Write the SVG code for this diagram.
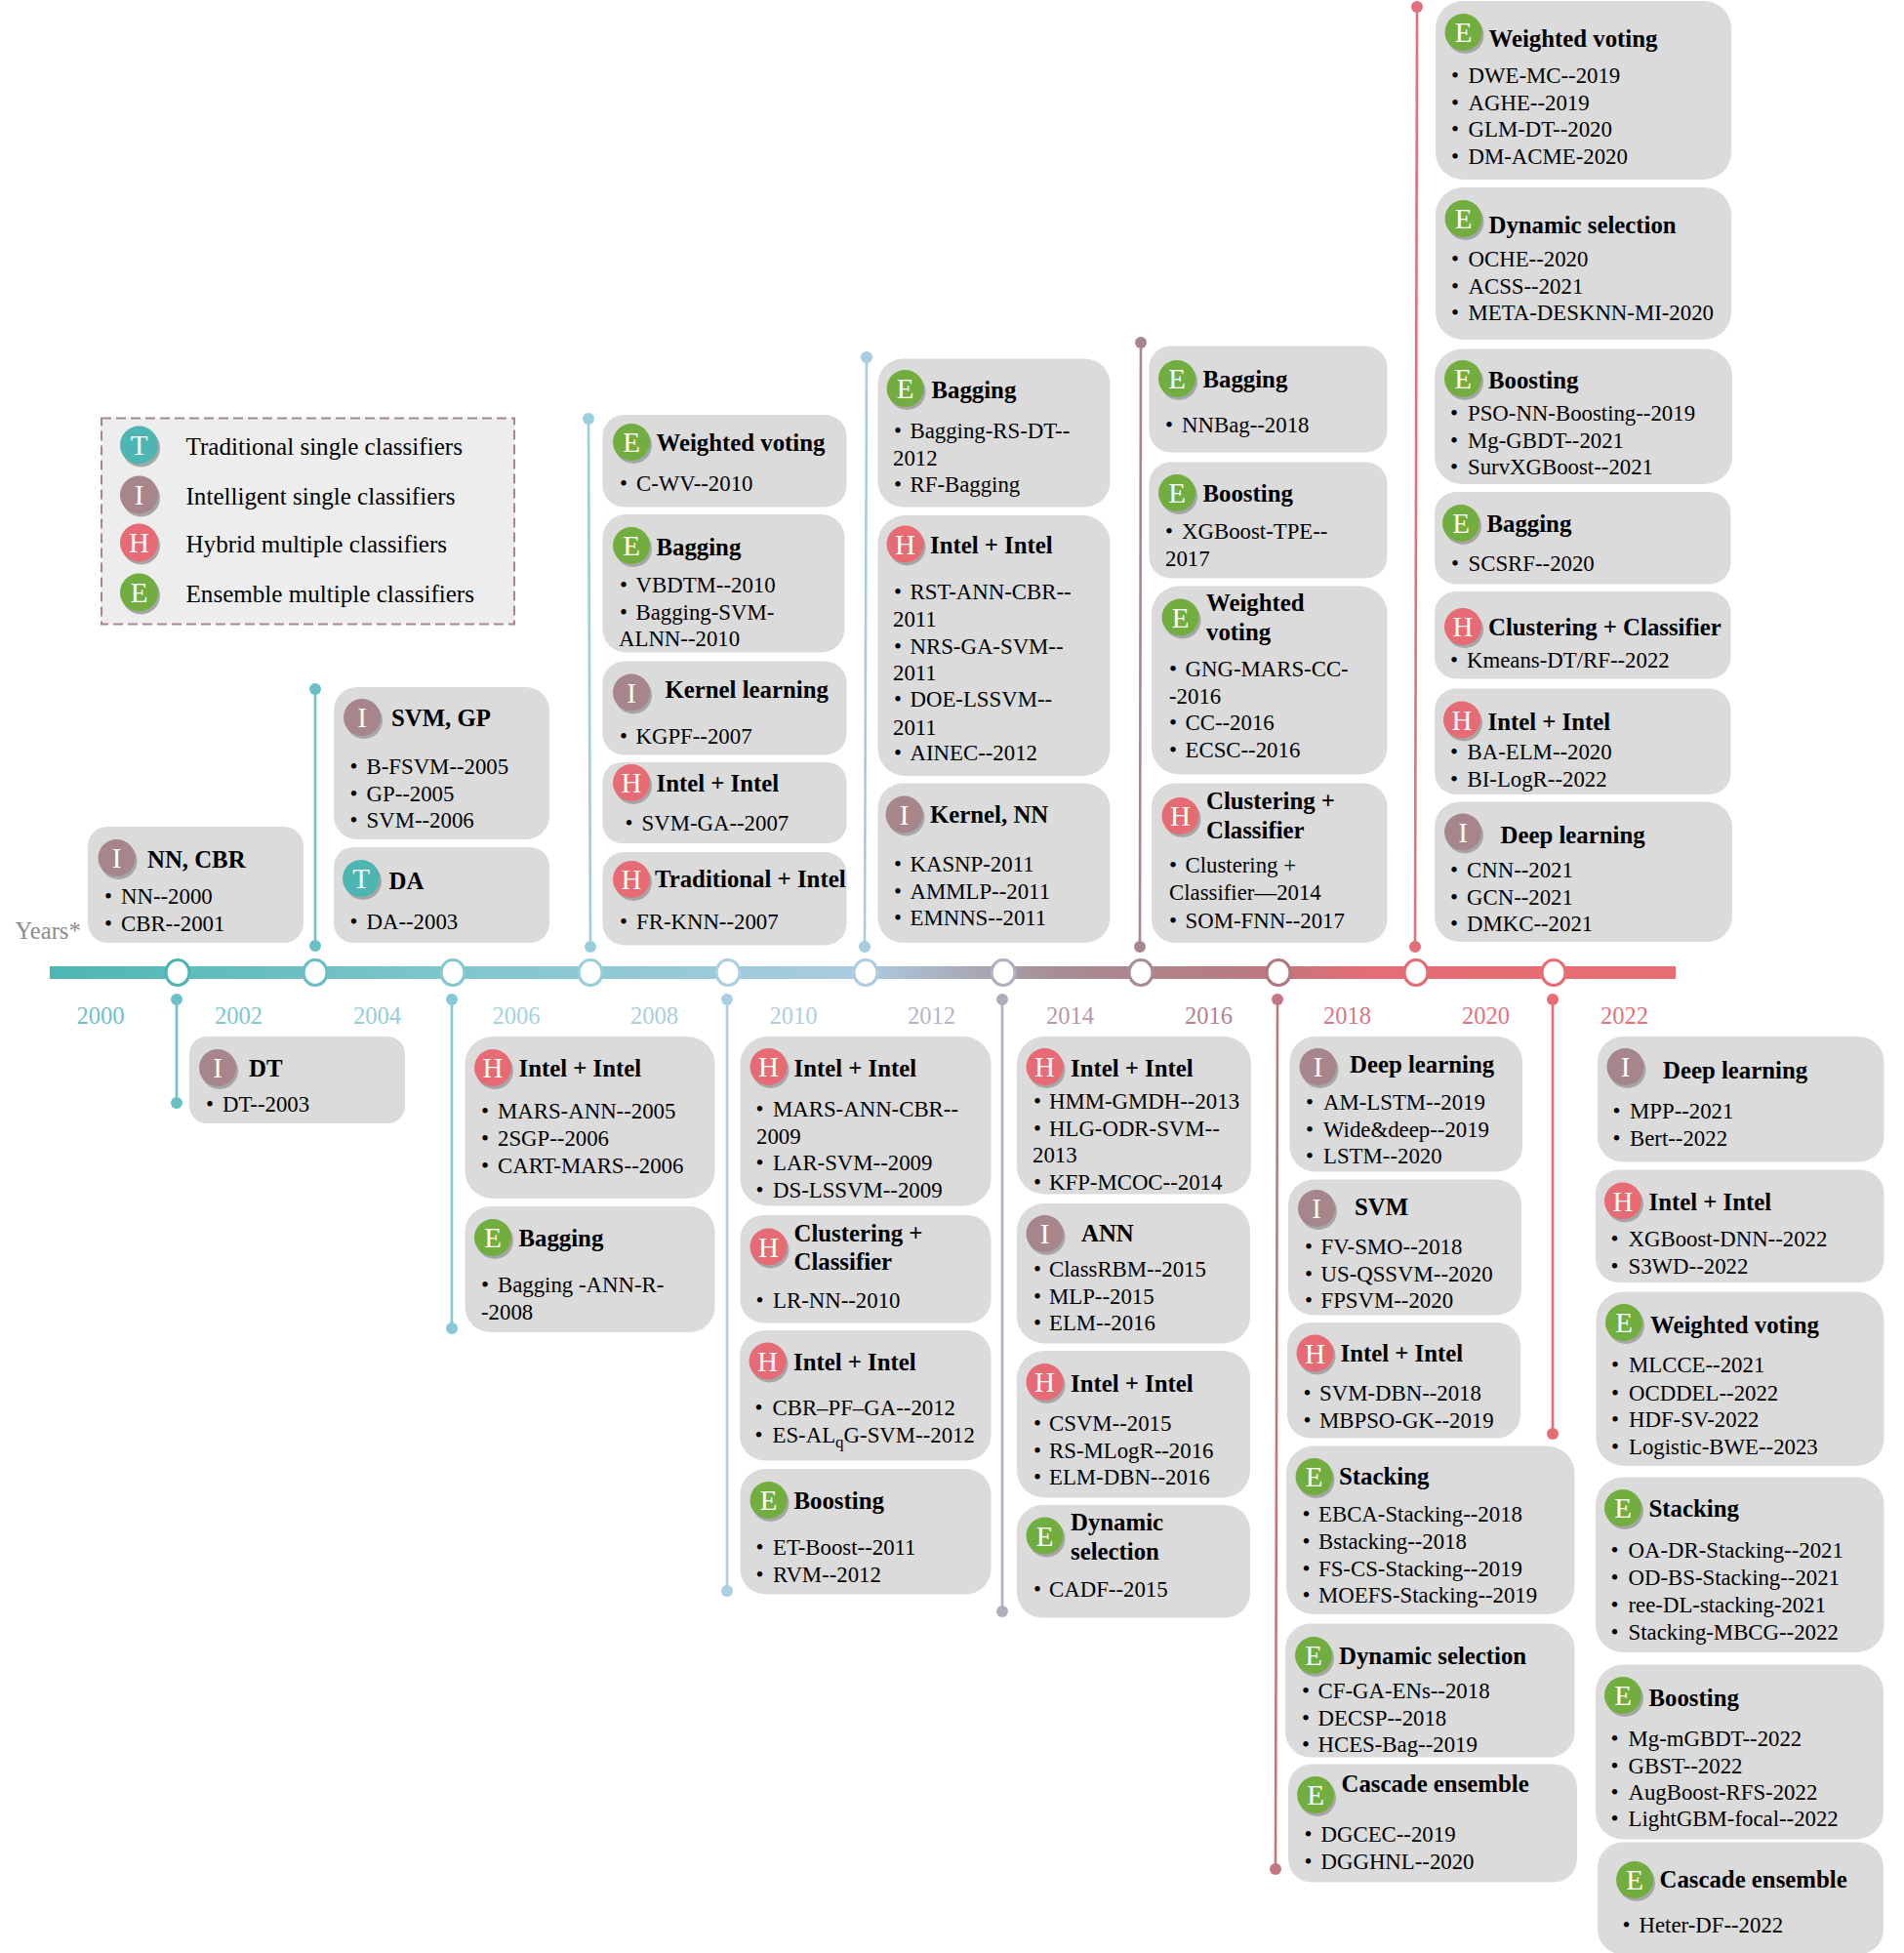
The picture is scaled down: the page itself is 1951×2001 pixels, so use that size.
<svg xmlns="http://www.w3.org/2000/svg" width="1951" height="2001" viewBox="0 0 1951 2001">
<style>
text{font-family:"Liberation Serif","Times New Roman",serif}
.b{fill:#DBDBDB}
.t{font-size:24.8px;font-weight:700;fill:#000}
.l{font-size:22.8px;fill:#000}
.k{font-size:29px;fill:#fff;text-anchor:middle}
.c{filter:drop-shadow(2px 3px 0 #A6A6A6)}
.T{fill:#4DB6B3}.I{fill:#A6858B}.H{fill:#E66B74}.E{fill:#72AE3F}
.y{font-size:24.6px;text-anchor:middle}
.lg{font-size:25.1px;fill:#000}
.cn{fill:none;stroke-width:2.6}
.hub{fill:#fff;stroke-width:3.2}
</style>
<defs>
<linearGradient id="bar" x1="51" x2="1717" y1="0" y2="0" gradientUnits="userSpaceOnUse">
<stop offset="0" stop-color="#4DB6B3"/><stop offset=".25" stop-color="#80C6CE"/><stop offset=".5" stop-color="#AACCE0"/><stop offset=".62" stop-color="#A78D94"/><stop offset=".74" stop-color="#B97980"/><stop offset=".81" stop-color="#E56D75"/><stop offset="1" stop-color="#E86C74"/>
</linearGradient>
</defs>
<rect id="bar-line" x="51" y="990" width="1666" height="13" fill="url(#bar)"/>
<g id="connectors">
<g stroke="#6BBFC6" fill="#6BBFC6"><line class="cn" x1="181" y1="1024" x2="181" y2="1130"/><circle cx="181" cy="1024" r="6" stroke="none"/><circle cx="181" cy="1130" r="6" stroke="none"/></g>
<g stroke="#6BBFC6" fill="#6BBFC6"><line class="cn" x1="323" y1="706" x2="323" y2="969"/><circle cx="323" cy="706" r="6" stroke="none"/><circle cx="323" cy="969" r="6" stroke="none"/></g>
<g stroke="#86C8D3" fill="#86C8D3"><line class="cn" x1="463" y1="1024" x2="463" y2="1361"/><circle cx="463" cy="1024" r="6" stroke="none"/><circle cx="463" cy="1361" r="6" stroke="none"/></g>
<g stroke="#98CFDC" fill="#98CFDC"><line class="cn" x1="603" y1="429" x2="605" y2="970"/><circle cx="603" cy="429" r="6" stroke="none"/><circle cx="605" cy="970" r="6" stroke="none"/></g>
<g stroke="#A9CFE0" fill="#A9CFE0"><line class="cn" x1="745" y1="1024" x2="745" y2="1630"/><circle cx="745" cy="1024" r="6" stroke="none"/><circle cx="745" cy="1630" r="6" stroke="none"/></g>
<g stroke="#A9CDE0" fill="#A9CDE0"><line class="cn" x1="888" y1="366" x2="886" y2="970"/><circle cx="888" cy="366" r="6" stroke="none"/><circle cx="886" cy="970" r="6" stroke="none"/></g>
<g stroke="#AFAEBF" fill="#AFAEBF"><line class="cn" x1="1027" y1="1024" x2="1027" y2="1651"/><circle cx="1027" cy="1024" r="6" stroke="none"/><circle cx="1027" cy="1651" r="6" stroke="none"/></g>
<g stroke="#A8868E" fill="#A8868E"><line class="cn" x1="1169" y1="351" x2="1168" y2="970"/><circle cx="1169" cy="351" r="6" stroke="none"/><circle cx="1168" cy="970" r="6" stroke="none"/></g>
<g stroke="#C4767E" fill="#C4767E"><line class="cn" x1="1309" y1="1024" x2="1307" y2="1915"/><circle cx="1309" cy="1024" r="6" stroke="none"/><circle cx="1307" cy="1915" r="6" stroke="none"/></g>
<g stroke="#E0707A" fill="#E0707A"><line class="cn" x1="1452" y1="7" x2="1450" y2="970"/><circle cx="1452" cy="7" r="6" stroke="none"/><circle cx="1450" cy="970" r="6" stroke="none"/></g>
<g stroke="#E86C74" fill="#E86C74"><line class="cn" x1="1591" y1="1024" x2="1591" y2="1469"/><circle cx="1591" cy="1024" r="6" stroke="none"/><circle cx="1591" cy="1469" r="6" stroke="none"/></g>
</g>
<g id="hubs">
<ellipse class="hub" cx="182" cy="996.5" rx="12" ry="13" stroke="#4DB6B3"/>
<ellipse class="hub" cx="323" cy="996.5" rx="12" ry="13" stroke="#67BEC5"/>
<ellipse class="hub" cx="464" cy="996.5" rx="12" ry="13" stroke="#84C8D0"/>
<ellipse class="hub" cx="605" cy="996.5" rx="12" ry="13" stroke="#98CEDA"/>
<ellipse class="hub" cx="746" cy="996.5" rx="12" ry="13" stroke="#A9CFE0"/>
<ellipse class="hub" cx="887" cy="996.5" rx="12" ry="13" stroke="#AFCBDF"/>
<ellipse class="hub" cx="1028" cy="996.5" rx="12" ry="13" stroke="#B0B0C3"/>
<ellipse class="hub" cx="1169" cy="996.5" rx="12" ry="13" stroke="#A78D94"/>
<ellipse class="hub" cx="1310" cy="996.5" rx="12" ry="13" stroke="#B2787F"/>
<ellipse class="hub" cx="1451" cy="996.5" rx="12" ry="13" stroke="#E36C75"/>
<ellipse class="hub" cx="1592" cy="996.5" rx="12" ry="13" stroke="#E86C74"/>
</g>
<g id="years">
<text x="15.5" y="962" style="font-size:24.6px;fill:#8C8C8C">Years*</text>
<text class="y" x="103" y="1049" fill="#70BFC8">2000</text>
<text class="y" x="244.500" y="1049" fill="#80C6CF">2002</text>
<text class="y" x="386.500" y="1049" fill="#95CDD8">2004</text>
<text class="y" x="529" y="1049" fill="#A4D2DE">2006</text>
<text class="y" x="670.500" y="1049" fill="#A9CEE0">2008</text>
<text class="y" x="813" y="1049" fill="#AFCCE0">2010</text>
<text class="y" x="954.500" y="1049" fill="#B4B5C8">2012</text>
<text class="y" x="1096.500" y="1049" fill="#B69BA6">2014</text>
<text class="y" x="1238.500" y="1049" fill="#B5838C">2016</text>
<text class="y" x="1380.500" y="1049" fill="#D97880">2018</text>
<text class="y" x="1522.500" y="1049" fill="#E4737A">2020</text>
<text class="y" x="1664.500" y="1049" fill="#E87078">2022</text>
</g>
<g id="legend">
<rect x="104" y="428.500" width="423" height="211" fill="#EDEDED" stroke="#A8868E" stroke-width="2" stroke-dasharray="10 5"/>
<circle class="c T" cx="142.500" cy="456" r="19.500"/><text class="k" x="142.500" y="466">T</text><text class="lg" x="190.500" y="466">Traditional single classifiers</text>
<circle class="c I" cx="142.500" cy="507" r="19.500"/><text class="k" x="142.500" y="517">I</text><text class="lg" x="190.500" y="517">Intelligent single classifiers</text>
<circle class="c H" cx="142.500" cy="556" r="19.500"/><text class="k" x="142.500" y="566">H</text><text class="lg" x="190.500" y="566">Hybrid multiple classifiers</text>
<circle class="c E" cx="142.500" cy="607" r="19.500"/><text class="k" x="142.500" y="617">E</text><text class="lg" x="190.500" y="617">Ensemble multiple classifiers</text>
</g>
<g id="n-nn-cbr"><rect class="b" x="90" y="847" width="221" height="119" rx="20"/><circle class="c I" cx="119.500" cy="879" r="19"/><text class="k" x="119.500" y="889">I</text><text class="t" x="151" y="889">NN, CBR</text>
<text class="l" y="926"><tspan x="107">•</tspan><tspan x="124">NN--2000</tspan></text><text class="l" y="954"><tspan x="107">•</tspan><tspan x="124">CBR--2001</tspan></text></g>
<g id="n-svm-gp"><rect class="b" x="342" y="704" width="221" height="156" rx="24"/><circle class="c I" cx="371" cy="735" r="19"/><text class="k" x="371" y="745">I</text><text class="t" x="401" y="744">SVM, GP</text>
<text class="l" y="793"><tspan x="358.500">•</tspan><tspan x="375.500">B-FSVM--2005</tspan></text><text class="l" y="821"><tspan x="358.500">•</tspan><tspan x="375.500">GP--2005</tspan></text><text class="l" y="848"><tspan x="358.500">•</tspan><tspan x="375.500">SVM--2006</tspan></text></g>
<g id="n-da"><rect class="b" x="342" y="868" width="221" height="98" rx="20"/><circle class="c T" cx="370" cy="900" r="19"/><text class="k" x="370" y="910">T</text><text class="t" x="398.500" y="911">DA</text>
<text class="l" y="952"><tspan x="358.500">•</tspan><tspan x="375.500">DA--2003</tspan></text></g>
<g id="n-dt"><rect class="b" x="194" y="1062" width="221" height="89" rx="18"/><circle class="c I" cx="223" cy="1094" r="19"/><text class="k" x="223" y="1104">I</text><text class="t" x="255" y="1103">DT</text>
<text class="l" y="1139"><tspan x="211">•</tspan><tspan x="228">DT--2003</tspan></text></g>
<g id="n-2006-intel"><rect class="b" x="476.500" y="1062" width="256" height="166" rx="28"/><circle class="c H" cx="505" cy="1094" r="19"/><text class="k" x="505" y="1104">H</text><text class="t" x="531.500" y="1103">Intel + Intel</text>
<text class="l" y="1145.500"><tspan x="493">•</tspan><tspan x="510">MARS-ANN--2005</tspan></text><text class="l" y="1174"><tspan x="493">•</tspan><tspan x="510">2SGP--2006</tspan></text><text class="l" y="1202"><tspan x="493">•</tspan><tspan x="510">CART-MARS--2006</tspan></text></g>
<g id="n-2006-bagging"><rect class="b" x="476.500" y="1236" width="256" height="129" rx="26"/><circle class="c E" cx="505" cy="1268" r="19"/><text class="k" x="505" y="1278">E</text><text class="t" x="531.500" y="1277">Bagging</text>
<text class="l" y="1324"><tspan x="493">•</tspan><tspan x="510">Bagging -ANN-R-</tspan></text><text class="l" x="493" y="1352">-2008</text></g>
<g id="n-2010-intel1"><rect class="b" x="758.500" y="1062" width="257" height="173.500" rx="28"/><circle class="c H" cx="787.500" cy="1093" r="19"/><text class="k" x="787.500" y="1103">H</text><text class="t" x="813.500" y="1103">Intel + Intel</text>
<text class="l" y="1144"><tspan x="774.500">•</tspan><tspan x="792">MARS-ANN-CBR--</tspan></text><text class="l" x="775" y="1172">2009</text><text class="l" y="1199"><tspan x="774.500">•</tspan><tspan x="792">LAR-SVM--2009</tspan></text><text class="l" y="1227"><tspan x="774.500">•</tspan><tspan x="792">DS-LSSVM--2009</tspan></text></g>
<g id="n-2010-cluster"><rect class="b" x="758.500" y="1245" width="257" height="110.500" rx="24"/><circle class="c H" cx="787.500" cy="1277.500" r="19"/><text class="k" x="787.500" y="1287.500">H</text><text class="t" x="813.500" y="1271.500">Clustering +</text><text class="t" x="813.500" y="1301">Classifier</text>
<text class="l" y="1340"><tspan x="774.500">•</tspan><tspan x="792">LR-NN--2010</tspan></text></g>
<g id="n-2010-intel2"><rect class="b" x="758" y="1363" width="257.500" height="133.500" rx="26"/><circle class="c H" cx="786.500" cy="1394.500" r="19"/><text class="k" x="786.500" y="1404.500">H</text><text class="t" x="813" y="1404">Intel + Intel</text>
<text class="l" y="1450"><tspan x="773.500">•</tspan><tspan x="791.500">CBR–PF–GA--2012</tspan></text><text class="l" y="1478"><tspan x="773.500">•</tspan><tspan x="791.500">ES-AL<tspan font-size="17" dy="5">q</tspan><tspan dy="-5">G-SVM--2012</tspan></tspan></text></g>
<g id="n-2010-boosting"><rect class="b" x="758.500" y="1505" width="257" height="128.500" rx="26"/><circle class="c E" cx="787.500" cy="1537" r="19"/><text class="k" x="787.500" y="1547">E</text><text class="t" x="813.500" y="1546">Boosting</text>
<text class="l" y="1593"><tspan x="774.500">•</tspan><tspan x="792">ET-Boost--2011</tspan></text><text class="l" y="1621"><tspan x="774.500">•</tspan><tspan x="792">RVM--2012</tspan></text></g>
<g id="n-2014-intel1"><rect class="b" x="1042" y="1062" width="240" height="161.500" rx="28"/><circle class="c H" cx="1070.500" cy="1093" r="19"/><text class="k" x="1070.500" y="1103">H</text><text class="t" x="1097" y="1103">Intel + Intel</text>
<text class="l" y="1135.500"><tspan x="1059">•</tspan><tspan x="1075">HMM-GMDH--2013</tspan></text><text class="l" y="1164"><tspan x="1059">•</tspan><tspan x="1075">HLG-ODR-SVM--</tspan></text><text class="l" x="1058" y="1191">2013</text><text class="l" y="1219"><tspan x="1059">•</tspan><tspan x="1075">KFP-MCOC--2014</tspan></text></g>
<g id="n-2014-ann"><rect class="b" x="1042" y="1233" width="239" height="143.500" rx="28"/><circle class="c I" cx="1070.500" cy="1264" r="19"/><text class="k" x="1070.500" y="1274">I</text><text class="t" x="1108" y="1271.500">ANN</text>
<text class="l" y="1308"><tspan x="1059">•</tspan><tspan x="1075">ClassRBM--2015</tspan></text><text class="l" y="1336"><tspan x="1059">•</tspan><tspan x="1075">MLP--2015</tspan></text><text class="l" y="1363"><tspan x="1059">•</tspan><tspan x="1075">ELM--2016</tspan></text></g>
<g id="n-2014-intel2"><rect class="b" x="1042" y="1384" width="239" height="150.500" rx="28"/><circle class="c H" cx="1070.500" cy="1416" r="19"/><text class="k" x="1070.500" y="1426">H</text><text class="t" x="1097" y="1426">Intel + Intel</text>
<text class="l" y="1466"><tspan x="1059">•</tspan><tspan x="1075">CSVM--2015</tspan></text><text class="l" y="1494"><tspan x="1059">•</tspan><tspan x="1075">RS-MLogR--2016</tspan></text><text class="l" y="1521"><tspan x="1059">•</tspan><tspan x="1075">ELM-DBN--2016</tspan></text></g>
<g id="n-2014-dynamic"><rect class="b" x="1042" y="1542" width="239" height="115.500" rx="26"/><circle class="c E" cx="1070.500" cy="1573.500" r="19"/><text class="k" x="1070.500" y="1583.500">E</text><text class="t" x="1097" y="1568">Dynamic</text><text class="t" x="1097" y="1598">selection</text>
<text class="l" y="1636"><tspan x="1059">•</tspan><tspan x="1075">CADF--2015</tspan></text></g>
<g id="n-2018-deep"><rect class="b" x="1321.500" y="1062" width="238.500" height="138.500" rx="26"/><circle class="c I" cx="1350.500" cy="1093" r="19"/><text class="k" x="1350.500" y="1103">I</text><text class="t" x="1383" y="1099">Deep learning</text>
<text class="l" y="1137"><tspan x="1338">•</tspan><tspan x="1356">AM-LSTM--2019</tspan></text><text class="l" y="1165"><tspan x="1338">•</tspan><tspan x="1356">Wide&amp;deep--2019</tspan></text><text class="l" y="1192"><tspan x="1338">•</tspan><tspan x="1356">LSTM--2020</tspan></text></g>
<g id="n-2018-svm"><rect class="b" x="1320" y="1208.500" width="239" height="139" rx="26"/><circle class="c I" cx="1349" cy="1238" r="19"/><text class="k" x="1349" y="1248">I</text><text class="t" x="1388" y="1245">SVM</text>
<text class="l" y="1285"><tspan x="1337">•</tspan><tspan x="1353.500">FV-SMO--2018</tspan></text><text class="l" y="1313"><tspan x="1337">•</tspan><tspan x="1353.500">US-QSSVM--2020</tspan></text><text class="l" y="1340"><tspan x="1337">•</tspan><tspan x="1353.500">FPSVM--2020</tspan></text></g>
<g id="n-2018-intel"><rect class="b" x="1319" y="1355" width="239" height="118.500" rx="24"/><circle class="c H" cx="1347.500" cy="1386.500" r="19"/><text class="k" x="1347.500" y="1396.500">H</text><text class="t" x="1373.500" y="1395">Intel + Intel</text>
<text class="l" y="1435"><tspan x="1335.500">•</tspan><tspan x="1352">SVM-DBN--2018</tspan></text><text class="l" y="1463"><tspan x="1335.500">•</tspan><tspan x="1352">MBPSO-GK--2019</tspan></text></g>
<g id="n-2018-stacking"><rect class="b" x="1318" y="1481.500" width="295.500" height="172.500" rx="28"/><circle class="c E" cx="1346.500" cy="1513" r="19"/><text class="k" x="1346.500" y="1523">E</text><text class="t" x="1372" y="1521">Stacking</text>
<text class="l" y="1559"><tspan x="1334.500">•</tspan><tspan x="1351">EBCA-Stacking--2018</tspan></text><text class="l" y="1587"><tspan x="1334.500">•</tspan><tspan x="1351">Bstacking--2018</tspan></text><text class="l" y="1614.500"><tspan x="1334.500">•</tspan><tspan x="1351">FS-CS-Stacking--2019</tspan></text><text class="l" y="1642"><tspan x="1334.500">•</tspan><tspan x="1351">MOEFS-Stacking--2019</tspan></text></g>
<g id="n-2018-dynamic"><rect class="b" x="1317" y="1663.500" width="296.500" height="137" rx="26"/><circle class="c E" cx="1346" cy="1696" r="19"/><text class="k" x="1346" y="1706">E</text><text class="t" x="1372" y="1705">Dynamic selection</text>
<text class="l" y="1740"><tspan x="1334">•</tspan><tspan x="1350.500">CF-GA-ENs--2018</tspan></text><text class="l" y="1768"><tspan x="1334">•</tspan><tspan x="1350.500">DECSP--2018</tspan></text><text class="l" y="1795"><tspan x="1334">•</tspan><tspan x="1350.500">HCES-Bag--2019</tspan></text></g>
<g id="n-2018-cascade"><rect class="b" x="1320" y="1807.500" width="296" height="121" rx="24"/><circle class="c E" cx="1348" cy="1839" r="19"/><text class="k" x="1348" y="1849">E</text><text class="t" x="1374.500" y="1836">Cascade ensemble</text>
<text class="l" y="1887"><tspan x="1336.500">•</tspan><tspan x="1353.500">DGCEC--2019</tspan></text><text class="l" y="1915"><tspan x="1336.500">•</tspan><tspan x="1353.500">DGGHNL--2020</tspan></text></g>
<g id="n-2022-deep"><rect class="b" x="1637" y="1062" width="293.500" height="128.500" rx="26"/><circle class="c I" cx="1665.500" cy="1093" r="19"/><text class="k" x="1665.500" y="1103">I</text><text class="t" x="1704" y="1105">Deep learning</text>
<text class="l" y="1146"><tspan x="1652.500">•</tspan><tspan x="1670">MPP--2021</tspan></text><text class="l" y="1174"><tspan x="1652.500">•</tspan><tspan x="1670">Bert--2022</tspan></text></g>
<g id="n-2022-intel"><rect class="b" x="1635" y="1198.500" width="295.500" height="115.500" rx="24"/><circle class="c H" cx="1663" cy="1230.500" r="19"/><text class="k" x="1663" y="1240.500">H</text><text class="t" x="1689.500" y="1240">Intel + Intel</text>
<text class="l" y="1277"><tspan x="1650.500">•</tspan><tspan x="1668.500">XGBoost-DNN--2022</tspan></text><text class="l" y="1305"><tspan x="1650.500">•</tspan><tspan x="1668.500">S3WD--2022</tspan></text></g>
<g id="n-2022-weighted"><rect class="b" x="1635.500" y="1323.500" width="295" height="178.500" rx="28"/><circle class="c E" cx="1664" cy="1355" r="19"/><text class="k" x="1664" y="1365">E</text><text class="t" x="1691" y="1365.500">Weighted voting</text>
<text class="l" y="1406"><tspan x="1651">•</tspan><tspan x="1669">MLCCE--2021</tspan></text><text class="l" y="1434.500"><tspan x="1651">•</tspan><tspan x="1669">OCDDEL--2022</tspan></text><text class="l" y="1462"><tspan x="1651">•</tspan><tspan x="1669">HDF-SV-2022</tspan></text><text class="l" y="1489.500"><tspan x="1651">•</tspan><tspan x="1669">Logistic-BWE--2023</tspan></text></g>
<g id="n-2022-stacking"><rect class="b" x="1635" y="1513.500" width="295.500" height="179.500" rx="28"/><circle class="c E" cx="1663" cy="1545" r="19"/><text class="k" x="1663" y="1555">E</text><text class="t" x="1689.500" y="1554">Stacking</text>
<text class="l" y="1596"><tspan x="1650.500">•</tspan><tspan x="1668.500">OA-DR-Stacking--2021</tspan></text><text class="l" y="1624"><tspan x="1650.500">•</tspan><tspan x="1668.500">OD-BS-Stacking--2021</tspan></text><text class="l" y="1651.500"><tspan x="1650.500">•</tspan><tspan x="1668.500">ree-DL-stacking-2021</tspan></text><text class="l" y="1679.500"><tspan x="1650.500">•</tspan><tspan x="1668.500">Stacking-MBCG--2022</tspan></text></g>
<g id="n-2022-boosting"><rect class="b" x="1635" y="1705.500" width="295" height="179" rx="28"/><circle class="c E" cx="1663" cy="1737" r="19"/><text class="k" x="1663" y="1747">E</text><text class="t" x="1689.500" y="1748">Boosting</text>
<text class="l" y="1788.500"><tspan x="1650.500">•</tspan><tspan x="1668.500">Mg-mGBDT--2022</tspan></text><text class="l" y="1816.500"><tspan x="1650.500">•</tspan><tspan x="1668.500">GBST--2022</tspan></text><text class="l" y="1843.500"><tspan x="1650.500">•</tspan><tspan x="1668.500">AugBoost-RFS-2022</tspan></text><text class="l" y="1871"><tspan x="1650.500">•</tspan><tspan x="1668.500">LightGBM-focal--2022</tspan></text></g>
<g id="n-2022-cascade"><rect class="b" x="1637" y="1887.500" width="293" height="115" rx="26"/><circle class="c E" cx="1675" cy="1926" r="19"/><text class="k" x="1675" y="1936">E</text><text class="t" x="1700.500" y="1933.500">Cascade ensemble</text>
<text class="l" y="1979.500"><tspan x="1662.500">•</tspan><tspan x="1679.500">Heter-DF--2022</tspan></text></g>
<g id="n-top-weighted"><rect class="b" x="1471" y="1" width="303" height="183" rx="28"/><circle class="c E" cx="1499.500" cy="33" r="19"/><text class="k" x="1499.500" y="43">E</text><text class="t" x="1525.500" y="47.500">Weighted voting</text>
<text class="l" y="84.500"><tspan x="1487">•</tspan><tspan x="1504.500">DWE-MC--2019</tspan></text><text class="l" y="112.500"><tspan x="1487">•</tspan><tspan x="1504.500">AGHE--2019</tspan></text><text class="l" y="139.500"><tspan x="1487">•</tspan><tspan x="1504.500">GLM-DT--2020</tspan></text><text class="l" y="167.500"><tspan x="1487">•</tspan><tspan x="1504.500">DM-ACME-2020</tspan></text></g>
<g id="n-top-dynamic"><rect class="b" x="1471" y="192" width="303" height="156" rx="28"/><circle class="c E" cx="1499.500" cy="224" r="19"/><text class="k" x="1499.500" y="234">E</text><text class="t" x="1525.500" y="238.500">Dynamic selection</text>
<text class="l" y="272.500"><tspan x="1487">•</tspan><tspan x="1504.500">OCHE--2020</tspan></text><text class="l" y="300.500"><tspan x="1487">•</tspan><tspan x="1504.500">ACSS--2021</tspan></text><text class="l" y="328"><tspan x="1487">•</tspan><tspan x="1504.500">META-DESKNN-MI-2020</tspan></text></g>
<g id="n-top-boosting"><rect class="b" x="1470" y="357.500" width="305" height="138.500" rx="28"/><circle class="c E" cx="1499" cy="388" r="19"/><text class="k" x="1499" y="398">E</text><text class="t" x="1525" y="397.500">Boosting</text>
<text class="l" y="430.500"><tspan x="1486">•</tspan><tspan x="1504">PSO-NN-Boosting--2019</tspan></text><text class="l" y="458.500"><tspan x="1486">•</tspan><tspan x="1504">Mg-GBDT--2021</tspan></text><text class="l" y="485.500"><tspan x="1486">•</tspan><tspan x="1504">SurvXGBoost--2021</tspan></text></g>
<g id="n-top-bagging"><rect class="b" x="1470" y="504" width="303.500" height="94.500" rx="22"/><circle class="c E" cx="1497" cy="536" r="19"/><text class="k" x="1497" y="546">E</text><text class="t" x="1523.500" y="545">Bagging</text>
<text class="l" y="584.500"><tspan x="1487">•</tspan><tspan x="1504.500">SCSRF--2020</tspan></text></g>
<g id="n-top-cluster"><rect class="b" x="1470" y="606" width="303.500" height="89.500" rx="22"/><circle class="c H" cx="1499" cy="642" r="19"/><text class="k" x="1499" y="652">H</text><text class="t" x="1525" y="650.500">Clustering + Classifier</text>
<text class="l" y="684"><tspan x="1486">•</tspan><tspan x="1503">Kmeans-DT/RF--2022</tspan></text></g>
<g id="n-top-intel"><rect class="b" x="1470" y="705.500" width="303.500" height="108.500" rx="22"/><circle class="c H" cx="1498" cy="737.500" r="19"/><text class="k" x="1498" y="747.500">H</text><text class="t" x="1524.500" y="747.500">Intel + Intel</text>
<text class="l" y="778"><tspan x="1486">•</tspan><tspan x="1503.500">BA-ELM--2020</tspan></text><text class="l" y="805.500"><tspan x="1486">•</tspan><tspan x="1503.500">BI-LogR--2022</tspan></text></g>
<g id="n-top-deep"><rect class="b" x="1470" y="821.500" width="305" height="143.500" rx="26"/><circle class="c I" cx="1499" cy="852.500" r="19"/><text class="k" x="1499" y="862.500">I</text><text class="t" x="1537.500" y="864">Deep learning</text>
<text class="l" y="899"><tspan x="1486">•</tspan><tspan x="1503">CNN--2021</tspan></text><text class="l" y="926.500"><tspan x="1486">•</tspan><tspan x="1503">GCN--2021</tspan></text><text class="l" y="954"><tspan x="1486">•</tspan><tspan x="1503">DMKC--2021</tspan></text></g>
<g id="n-2016-bagging"><rect class="b" x="1177.500" y="354.500" width="244" height="109" rx="22"/><circle class="c E" cx="1206" cy="388" r="19"/><text class="k" x="1206" y="398">E</text><text class="t" x="1232.500" y="397">Bagging</text>
<text class="l" y="443"><tspan x="1194">•</tspan><tspan x="1211">NNBag--2018</tspan></text></g>
<g id="n-2016-boosting"><rect class="b" x="1177.500" y="473.500" width="244" height="119" rx="22"/><circle class="c E" cx="1206" cy="505" r="19"/><text class="k" x="1206" y="515">E</text><text class="t" x="1232.500" y="514">Boosting</text>
<text class="l" y="552"><tspan x="1194">•</tspan><tspan x="1211">XGBoost-TPE--</tspan></text><text class="l" x="1194" y="580">2017</text></g>
<g id="n-2016-weighted"><rect class="b" x="1180" y="600.500" width="241.500" height="193" rx="28"/><circle class="c E" cx="1209.500" cy="632.500" r="19"/><text class="k" x="1209.500" y="642.500">E</text><text class="t" x="1236" y="626">Weighted</text><text class="t" x="1236" y="656">voting</text>
<text class="l" y="693"><tspan x="1198">•</tspan><tspan x="1214.500">GNG-MARS-CC-</tspan></text><text class="l" x="1198" y="721">-2016</text><text class="l" y="747.500"><tspan x="1198">•</tspan><tspan x="1214.500">CC--2016</tspan></text><text class="l" y="775.500"><tspan x="1198">•</tspan><tspan x="1214.500">ECSC--2016</tspan></text></g>
<g id="n-2016-cluster"><rect class="b" x="1180" y="802.500" width="241.500" height="163.500" rx="24"/><circle class="c H" cx="1209.500" cy="836" r="19"/><text class="k" x="1209.500" y="846">H</text><text class="t" x="1236" y="828.500">Clustering +</text><text class="t" x="1236" y="858.500">Classifier</text>
<text class="l" y="893.500"><tspan x="1198">•</tspan><tspan x="1214.500">Clustering +</tspan></text><text class="l" x="1198" y="922">Classifier—2014</text><text class="l" y="951"><tspan x="1198">•</tspan><tspan x="1214.500">SOM-FNN--2017</tspan></text></g>
<g id="n-2012-bagging"><rect class="b" x="899.500" y="367.500" width="238" height="152" rx="26"/><circle class="c E" cx="927.500" cy="398" r="19"/><text class="k" x="927.500" y="408">E</text><text class="t" x="954.500" y="408">Bagging</text>
<text class="l" y="449"><tspan x="916">•</tspan><tspan x="932.500">Bagging-RS-DT--</tspan></text><text class="l" x="915" y="477">2012</text><text class="l" y="504"><tspan x="916">•</tspan><tspan x="932.500">RF-Bagging</tspan></text></g>
<g id="n-2012-intel"><rect class="b" x="899.500" y="528" width="238" height="267" rx="28"/><circle class="c H" cx="927.500" cy="557.500" r="19"/><text class="k" x="927.500" y="567.500">H</text><text class="t" x="953" y="566.500">Intel + Intel</text>
<text class="l" y="613.500"><tspan x="916">•</tspan><tspan x="932.500">RST-ANN-CBR--</tspan></text><text class="l" x="915" y="641.500">2011</text><text class="l" y="669.500"><tspan x="916">•</tspan><tspan x="932.500">NRS-GA-SVM--</tspan></text><text class="l" x="915" y="696.500">2011</text><text class="l" y="724"><tspan x="916">•</tspan><tspan x="932.500">DOE-LSSVM--</tspan></text><text class="l" x="915" y="752.500">2011</text><text class="l" y="779"><tspan x="916">•</tspan><tspan x="932.500">AINEC--2012</tspan></text></g>
<g id="n-2012-kernel"><rect class="b" x="899.500" y="802.500" width="238" height="163.500" rx="26"/><circle class="c I" cx="926.500" cy="834.500" r="19"/><text class="k" x="926.500" y="844.500">I</text><text class="t" x="953" y="843">Kernel, NN</text>
<text class="l" y="893"><tspan x="916">•</tspan><tspan x="932.500">KASNP-2011</tspan></text><text class="l" y="921"><tspan x="916">•</tspan><tspan x="932.500">AMMLP--2011</tspan></text><text class="l" y="948"><tspan x="916">•</tspan><tspan x="932.500">EMNNS--2011</tspan></text></g>
<g id="n-2008-weighted"><rect class="b" x="617.500" y="425" width="250" height="94.500" rx="22"/><circle class="c E" cx="647" cy="453" r="19"/><text class="k" x="647" y="463">E</text><text class="t" x="672.500" y="462">Weighted voting</text>
<text class="l" y="502.500"><tspan x="635">•</tspan><tspan x="652">C-WV--2010</tspan></text></g>
<g id="n-2008-bagging"><rect class="b" x="617.500" y="527" width="248" height="141.500" rx="24"/><circle class="c E" cx="647" cy="559" r="19"/><text class="k" x="647" y="569">E</text><text class="t" x="672.500" y="569">Bagging</text>
<text class="l" y="607"><tspan x="635">•</tspan><tspan x="651.500">VBDTM--2010</tspan></text><text class="l" y="635"><tspan x="635">•</tspan><tspan x="651.500">Bagging-SVM-</tspan></text><text class="l" x="634" y="662">ALNN--2010</text></g>
<g id="n-2008-kernel"><rect class="b" x="617.500" y="677.500" width="250" height="96" rx="22"/><circle class="c I" cx="647" cy="709.500" r="19"/><text class="k" x="647" y="719.500">I</text><text class="t" x="681.500" y="714.500">Kernel learning</text>
<text class="l" y="761.500"><tspan x="635">•</tspan><tspan x="651.500">KGPF--2007</tspan></text></g>
<g id="n-2008-intel"><rect class="b" x="617.500" y="781" width="250" height="83" rx="20"/><circle class="c H" cx="647" cy="802" r="19"/><text class="k" x="647" y="812">H</text><text class="t" x="672.500" y="810.500">Intel + Intel</text>
<text class="l" y="851"><tspan x="640.500">•</tspan><tspan x="657.500">SVM-GA--2007</tspan></text></g>
<g id="n-2008-trad"><rect class="b" x="617.500" y="873" width="250" height="95.500" rx="22"/><circle class="c H" cx="647" cy="901" r="19"/><text class="k" x="647" y="911">H</text><text class="t" x="671" y="908.500">Traditional + Intel</text>
<text class="l" y="952"><tspan x="635">•</tspan><tspan x="652">FR-KNN--2007</tspan></text></g>
</svg>
